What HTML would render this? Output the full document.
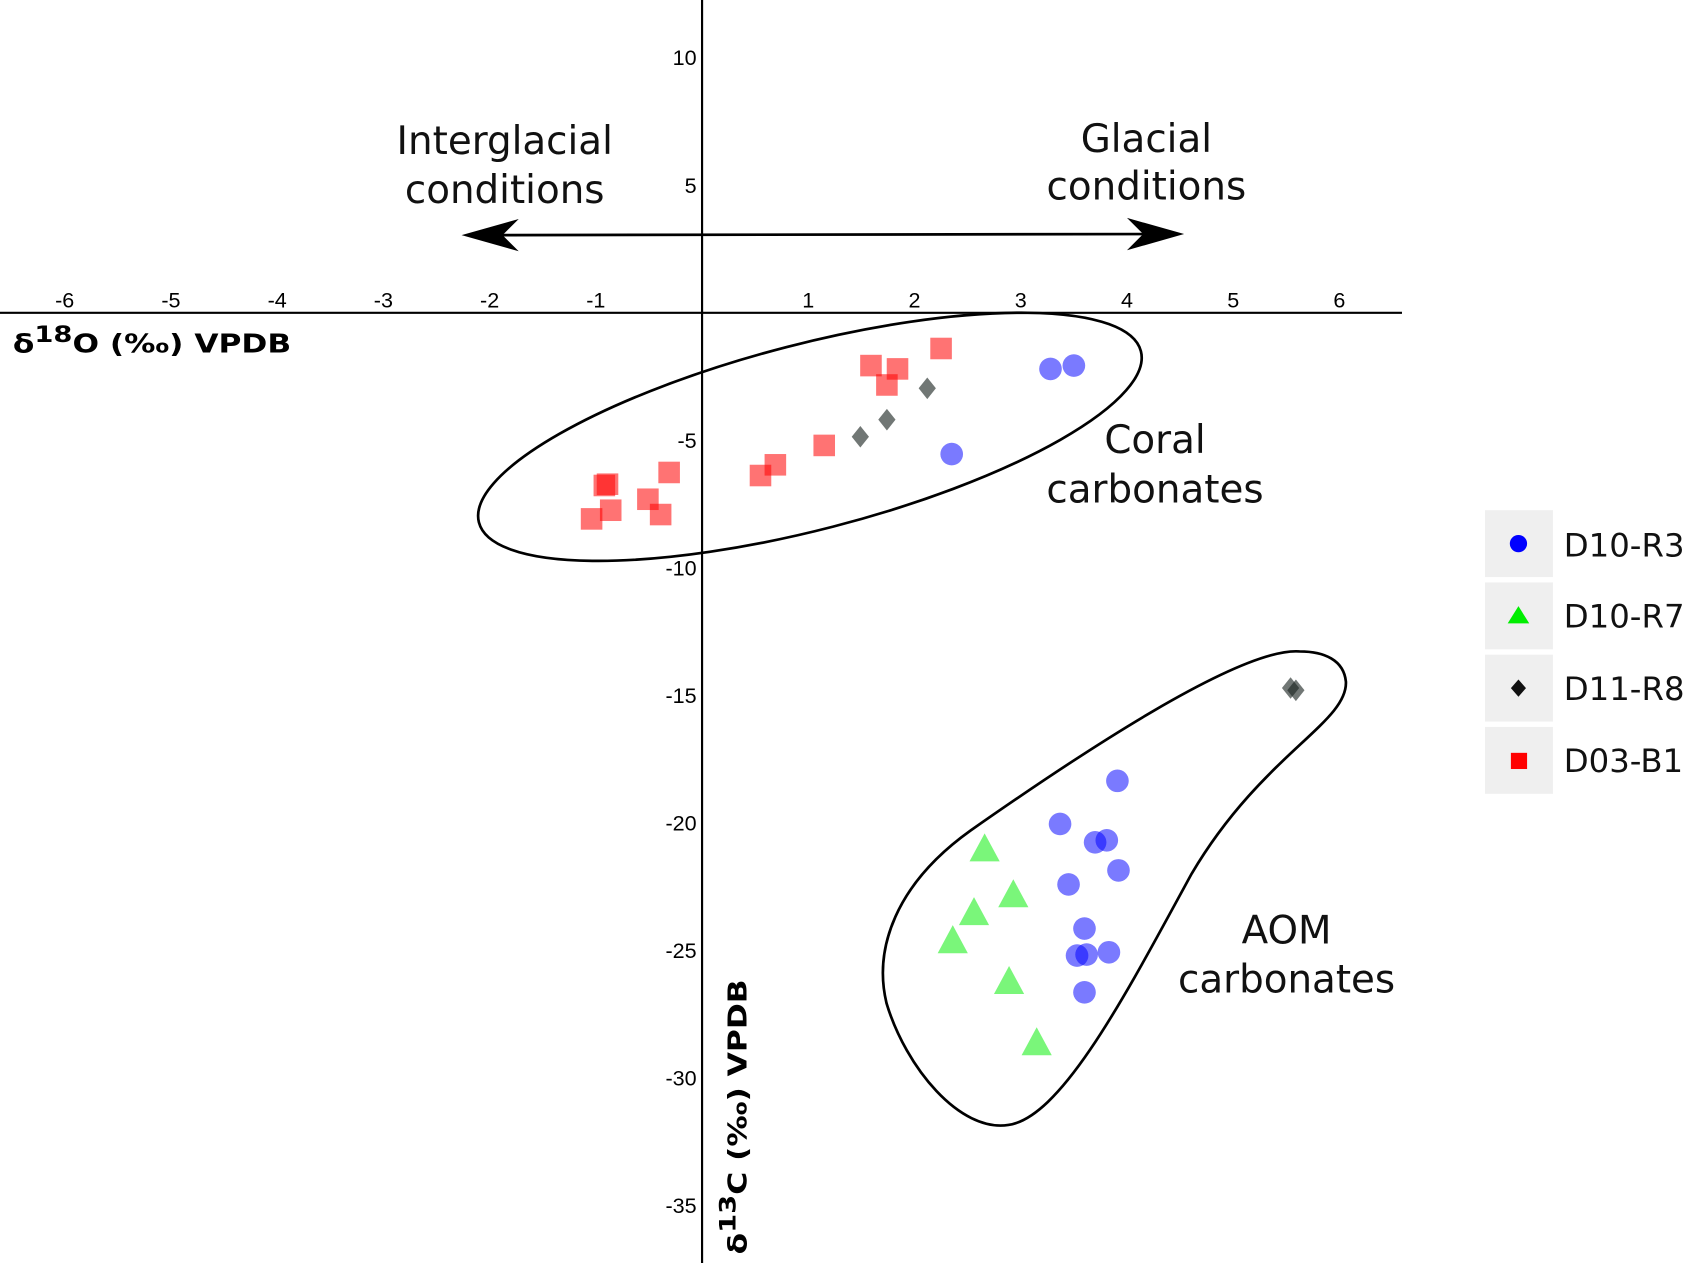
<!DOCTYPE html>
<html><head><meta charset="utf-8"><style>
html,body{margin:0;padding:0;background:#fff;}
svg{display:block;font-family:"Liberation Sans","DejaVu Sans",sans-serif;}
</style></head><body>
<svg id="chart" width="1691" height="1263" viewBox="0 0 1568 1171" preserveAspectRatio="none" xmlns="http://www.w3.org/2000/svg">
<g id="axes"></g>
<g id="envelopes">
  <ellipse cx="751" cy="405" rx="317" ry="86" transform="rotate(-14.5 751 405)" fill="none" stroke="#000" stroke-width="2.5"/>
  <path d="M1205,604 C1150,600 1000,700 900,770 C830,820 810,880 822,930 C840,990 890,1050 935,1043 C985,1036 1045,920 1105,810 C1170,700 1250,670 1248,632 C1246,612 1228,604 1205,604 Z" fill="none" stroke="#000" stroke-width="2.5"/>
</g>
<g id="marks"></g>
<g font-size="36" text-anchor="middle" fill="#111" font-family="DejaVu Sans, sans-serif">
  <text x="468" y="143">Interglacial</text>
  <text x="468" y="188">conditions</text>
  <text x="1063" y="141">Glacial</text>
  <text x="1063" y="185">conditions</text>
  <text x="1071" y="420">Coral</text>
  <text x="1071" y="466">carbonates</text>
  <text x="1193" y="875">AOM</text>
  <text x="1193" y="920">carbonates</text>
</g>
<g>
  <line x1="450" y1="218" x2="1078" y2="217" stroke="#000" stroke-width="2.5"/>
  <path d="M428,218 L481,203 L466,218 L481,233 Z" fill="#000"/>
  <path d="M1098,217 L1045,202 L1060,217 L1045,232 Z" fill="#000"/>
</g>
<text x="12" y="327" font-size="24" font-weight="bold" font-family="DejaVu Sans, sans-serif" textLength="258" lengthAdjust="spacingAndGlyphs">δ<tspan dy="-10" font-size="21">18</tspan><tspan dy="10">O (‰) VPDB</tspan></text>
<text transform="translate(692,1163) rotate(-90)" font-size="24" font-weight="bold" font-family="DejaVu Sans, sans-serif" textLength="255" lengthAdjust="spacingAndGlyphs">δ<tspan dy="-10" font-size="21">13</tspan><tspan dy="10">C (‰) VPDB</tspan></text>
<g font-size="30" fill="#111" font-family="DejaVu Sans, sans-serif">
  <g><rect x="1377" y="473" width="63" height="62" fill="#efefef"/><circle cx="1408" cy="504" r="8" fill="#0000ff"/><text x="1450" y="516">D10-R3</text></g>
  <g><rect x="1377" y="540" width="63" height="62" fill="#efefef"/><path d="M1408,562 L1418,578 L1398,578 Z" fill="#00ee00"/><text x="1450" y="582">D10-R7</text></g>
  <g><rect x="1377" y="607" width="63" height="62" fill="#efefef"/><path d="M1408,630 L1415,638 L1408,646 L1401,638 Z" fill="#111"/><text x="1450" y="649">D11-R8</text></g>
  <g><rect x="1377" y="674" width="63" height="62" fill="#efefef"/><rect x="1401" y="698" width="15" height="15" fill="#ff0000"/><text x="1450" y="716">D03-B1</text></g>
</g>
<script>
const xTicks=[-6,-5,-4,-3,-2,-1,1,2,3,4,5,6];
const yTicks=[10,5,-5,-10,-15,-20,-25,-30,-35];
const d03X=[-1.04,-0.86,-0.92,-0.89,-0.51,-0.39,-0.31,0.55,0.69,1.15,1.59,1.74,1.84,2.25];
const d03Y=[-8.08,-7.74,-6.77,-6.72,-7.31,-7.91,-6.26,-6.38,-5.96,-5.20,-2.07,-2.83,-2.20,-1.40];
const d11X=[1.49,1.74,2.12,5.54,5.59];
const d11Y=[-4.86,-4.19,-2.96,-14.71,-14.80];
const d10r3X=[3.28,3.50,2.35,3.91,3.37,3.70,3.81,3.92,3.45,3.60,3.53,3.62,3.83,3.60];
const d10r3Y=[-2.20,-2.07,-5.54,-18.35,-20.04,-20.76,-20.68,-21.86,-22.41,-24.14,-25.20,-25.16,-25.07,-26.64];
const d10r7X=[2.66,2.93,2.56,2.36,2.89,3.15];
const d10r7Y=[-21.0,-22.8,-23.5,-24.6,-26.2,-28.6];

const NS="http://www.w3.org/2000/svg";
const sx=v=>651+v*98.5;
const sy=v=>290-v*23.65;
function mk(tag,attrs,parent){const e=document.createElementNS(NS,tag);for(const k in attrs)e.setAttribute(k,attrs[k]);parent.appendChild(e);return e;}
const axes=document.getElementById('axes');
let ax=mk('line',{x1:0,y1:sy(0),x2:1300,y2:sy(0),stroke:'#000','stroke-width':2},axes);


let ay=mk('line',{x1:sx(0),y1:0,x2:sx(0),y2:1171,stroke:'#000','stroke-width':2},axes);


xTicks.forEach(t=>{const e=mk('text',{x:sx(t),y:sy(0)-5,'font-size':20,'text-anchor':'middle'},axes);e.textContent=t;

});
yTicks.forEach(t=>{const e=mk('text',{x:sx(0)-5,y:sy(t)+7,'font-size':20,'text-anchor':'end'},axes);e.textContent=t;

});
const marks=document.getElementById('marks');
d03X.forEach((x,i)=>{const e=mk('rect',{x:sx(x)-10,y:sy(d03Y[i])-10,width:20,height:20,fill:'#ff0000','fill-opacity':0.55},marks);

});
d10r3X.forEach((x,i)=>{const e=mk('circle',{cx:sx(x),cy:sy(d10r3Y[i]),r:10.5,fill:'#0000ff','fill-opacity':0.52},marks);

});
d10r7X.forEach((x,i)=>{const cx=sx(x),cy=sy(d10r7Y[i]);const e=mk('path',{d:`M${cx},${cy-14} L${cx+14},${cy+12} L${cx-14},${cy+12} Z`,fill:'#00ee00','fill-opacity':0.52},marks);

});
d11X.forEach((x,i)=>{const cx=sx(x),cy=sy(d11Y[i]);const e=mk('path',{d:`M${cx},${cy-10} L${cx+8},${cy} L${cx},${cy+10} L${cx-8},${cy} Z`,fill:'#1a2420','fill-opacity':0.62},marks);

});
</script>
</svg>
</body></html>
